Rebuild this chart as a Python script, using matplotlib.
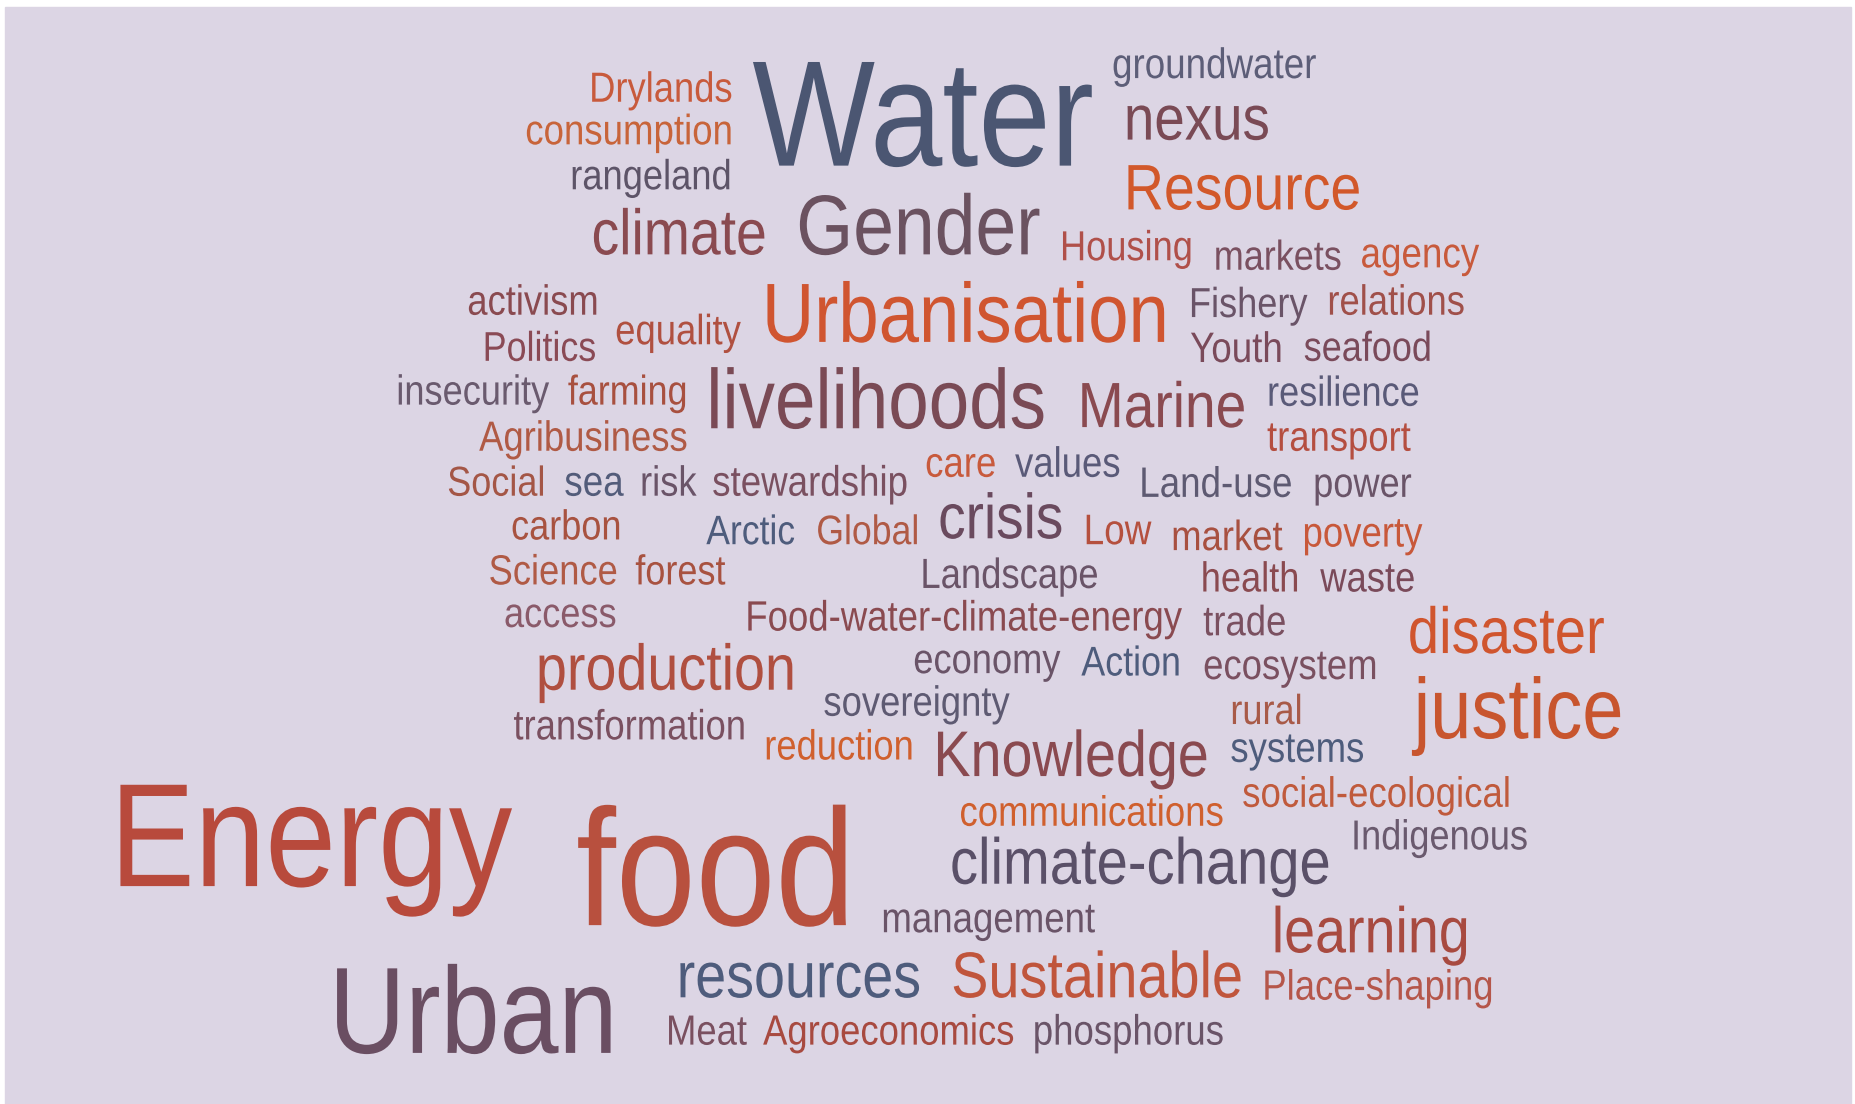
import matplotlib
matplotlib.use("Agg")
from matplotlib import pyplot as plt
from matplotlib import patheffects
from matplotlib.patches import Rectangle
from matplotlib.transforms import Affine2D

# words of the cloud and their colours
words = ["groundwater", "Drylands", "Water", "consumption", "nexus", "rangeland",
         "Resource", "climate", "Gender", "Housing", "markets", "agency",
         "activism", "Urbanisation", "Fishery", "relations", "Politics", "equality",
         "Youth", "seafood", "insecurity", "farming", "livelihoods", "Marine",
         "resilience", "Agribusiness", "transport", "Social", "sea", "risk",
         "stewardship", "care", "values", "Land-use", "power", "carbon",
         "Arctic", "Global", "crisis", "Low", "market", "poverty",
         "Science", "forest", "Landscape", "health", "waste", "access",
         "Food-water-climate-energy", "trade", "disaster", "production", "economy", "Action",
         "ecosystem", "justice", "sovereignty", "rural", "transformation", "reduction",
         "Knowledge", "systems", "social-ecological", "communications", "Energy", "food",
         "Indigenous", "climate-change", "management", "learning", "resources", "Sustainable",
         "Place-shaping", "Urban", "Meat", "Agroeconomics", "phosphorus"]

colors = ["#5d5e78", "#c85a3c", "#4b5672", "#c8643a", "#7a4a55", "#5d5468",
          "#d2582a", "#8a4a50", "#6b5260", "#b0504a", "#7a5060", "#c85a3c",
          "#8a4a50", "#d05530", "#6a5468", "#a0504a", "#8a4a55", "#b05040",
          "#7a4a5a", "#7a4a5a", "#6a5a6e", "#a8503f", "#7a4a55", "#8a4a50",
          "#5a5a78", "#b05a45", "#b54e40", "#a45646", "#535c7a", "#6a5468",
          "#7a5060", "#c85a3c", "#5a5a78", "#5e5a72", "#6a5468", "#a85240",
          "#4e5c7c", "#b05a45", "#6a4a5e", "#b5503e", "#a85040", "#c8583a",
          "#b05a45", "#a85240", "#6a5468", "#8a4a50", "#7a4a5a", "#8a5a6a",
          "#8a4a50", "#7a5060", "#d0552e", "#b04f40", "#6a5468", "#4e5c7c",
          "#7a5060", "#c8552e", "#5e5a72", "#a85a48", "#7a5060", "#d0602e",
          "#8a4a50", "#4e5c7c", "#c05a3c", "#d0602e", "#b84a3c", "#b8503e",
          "#6a5a6e", "#5a5068", "#6a5468", "#a84a40", "#4e5c7c", "#c0553c",
          "#b5564a", "#6a4e62", "#7a5060", "#a84a40", "#6a5468"]

# layout: left edge, right edge, baseline (measured on a 1568 px wide copy)
left = [940, 498, 636, 444, 950, 482, 950, 500, 673, 896, 1026, 1150,
        395, 644, 1005, 1122, 408, 520, 1006, 1102, 335, 480, 597, 911,
        1071, 405, 1071, 378, 477, 541, 602, 782, 858, 963, 1110, 432,
        597, 690, 793, 916, 990, 1101, 413, 537, 778, 1015, 1116, 426,
        630, 1017, 1190, 453, 772, 914, 1017, 1195, 696, 1040, 434, 646,
        789, 1040, 1050, 811, 93, 487, 1142, 803, 745, 1075, 572, 804,
        1067, 278, 563, 645, 873]
right = [1112, 619, 924, 619, 1073, 618, 1150, 648, 879, 1008, 1134, 1250,
         506, 987, 1105, 1238, 504, 626, 1084, 1210, 464, 581, 884, 1053,
         1200, 581, 1192, 461, 527, 589, 767, 842, 947, 1092, 1193, 525,
         672, 777, 899, 973, 1084, 1202, 522, 613, 928, 1098, 1196, 521,
         998, 1087, 1356, 672, 896, 998, 1164, 1372, 853, 1101, 630, 772,
         1021, 1153, 1277, 1034, 432, 722, 1291, 1124, 925, 1242, 778, 1050,
         1262, 521, 631, 857, 1034]
base = [66, 86, 140, 122, 118, 160, 177, 215, 215, 220, 228, 226,
        266, 289, 268, 266, 305, 291, 306, 305, 342, 342, 362, 361,
        343, 381, 381, 419, 419, 419, 419, 403, 403, 420, 420, 456,
        460, 460, 455, 460, 465, 462, 494, 494, 497, 500, 500, 530,
        533, 537, 552, 583, 569, 571, 574, 624, 605, 612, 625, 642,
        656, 644, 682, 698, 749, 782, 718, 747, 788, 805, 843, 843,
        845, 890, 883, 883, 883]

k = 1855 / 1568
H = 1104
stretch = 1.16  # the glyphs in the picture are taller than Arial for their width


class Tall(patheffects.AbstractPathEffect):
    """Draw the glyphs stretched upward from the baseline."""
    def __init__(self, sy, y0):
        super().__init__()
        self.sy = sy
        self.y0 = y0

    def draw_path(self, renderer, gc, tpath, affine, rgbFace=None):
        aff = affine + Affine2D().translate(0, -self.y0).scale(1, self.sy).translate(0, self.y0)
        renderer.draw_path(gc, tpath, aff, rgbFace)


fig = plt.figure(figsize=(18.55, 11.04), dpi=100)
ax = fig.add_axes([0, 0, 1, 1])
ax.set_xlim(0, 1855)
ax.set_ylim(H, 0)
ax.axis("off")
ax.add_patch(Rectangle((5, 7), 1846, 1097, color="#dcd5e4", zorder=0))

renderer = fig.canvas.get_renderer()
for w, c, x0, x1, y in zip(words, colors, left, right, base):
    t = ax.text(x0 * k, y * k, w, fontsize=20, color=c, family="Liberation Sans",
                ha="left", va="baseline")
    bb = t.get_window_extent(renderer)
    t.set_fontsize(20 * (x1 - x0) * k / bb.width)
    t.set_path_effects([Tall(stretch, H - y * k)])

fig.savefig("out.png", dpi=100)
